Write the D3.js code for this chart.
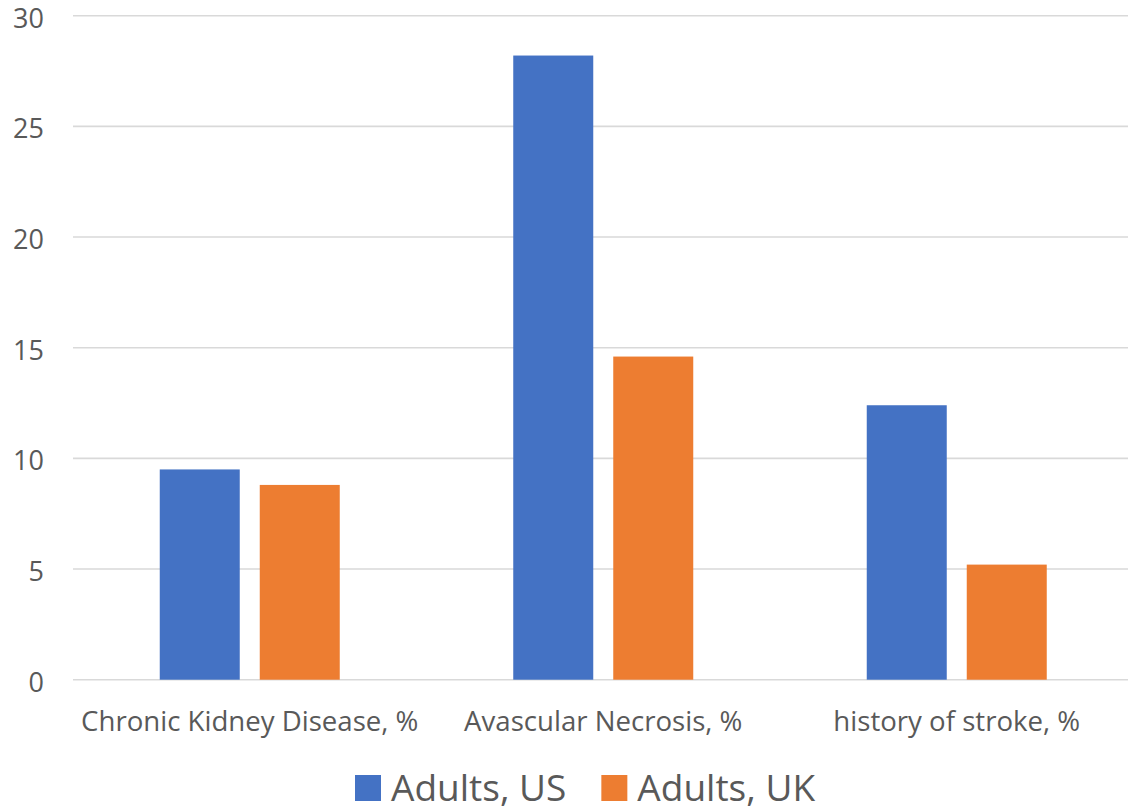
<!DOCTYPE html>
<html>
<head>
<meta charset="utf-8">
<script src="https://cdn.jsdelivr.net/npm/d3@7"></script>
<style>
  html, body { margin: 0; padding: 0; background: #ffffff; }
  svg { display: block; }
  text { font-family: "Open Sans", "Noto Sans", sans-serif; fill: #595959; }
</style>
</head>
<body>
<svg id="chart" width="1128" height="808"></svg>
<script>
const categories = ["Chronic Kidney Disease, %", "Avascular Necrosis, %", "history of stroke, %"];
const seriesNames = ["Adults, US", "Adults, UK"];
const usValues = [9.5, 28.2, 12.4];
const ukValues = [8.8, 14.6, 5.2];
const yTicks = [0, 5, 10, 15, 20, 25, 30];
const colors = ["#4472C4", "#ED7D31"];

const seriesValues = [usValues, ukValues];
const data = categories.map((c, i) => ({
  category: c,
  values: seriesNames.map((s, j) => ({ series: s, value: seriesValues[j][i], color: colors[j] }))
}));

const svg = d3.select("#chart");
const plotLeft = 73, plotRight = 1133.5, plotTop = 15.7, plotBottom = 679.7;

const x0 = d3.scaleBand().domain(categories).range([plotLeft, plotRight]).paddingInner(0).paddingOuter(0);
const x1 = d3.scaleBand().domain(seriesNames).range([0, x0.bandwidth()]).paddingInner(0.2).paddingOuter(0.8675);
const y = d3.scaleLinear().domain([0, 30]).range([plotBottom, plotTop]);

// gridlines
svg.append("g").selectAll("line").data(yTicks).join("line")
  .attr("x1", plotLeft).attr("x2", 1128)
  .attr("y1", d => y(d)).attr("y2", d => y(d))
  .attr("stroke", "#d9d9d9").attr("stroke-width", 1.6);

// y tick labels
svg.append("g").selectAll("text").data(yTicks).join("text")
  .attr("x", 44).attr("y", d => y(d)).attr("dy", "0.44em")
  .attr("text-anchor", "end").attr("font-size", 27)
  .text(d => d);

// bars
const groups = svg.append("g").selectAll("g").data(data).join("g")
  .attr("transform", d => `translate(${x0(d.category)},0)`);
groups.selectAll("rect").data(d => d.values).join("rect")
  .attr("x", d => x1(d.series))
  .attr("width", x1.bandwidth())
  .attr("y", d => y(d.value))
  .attr("height", d => y(0) - y(d.value))
  .attr("fill", d => d.color);

// category labels
svg.append("g").selectAll("text").data(categories).join("text")
  .attr("x", d => x0(d) + x0.bandwidth() / 2)
  .attr("y", 730.5)
  .attr("text-anchor", "middle").attr("font-size", 27.6)
  .text(d => d);

// legend
const legend = svg.append("g");
let lx = 355;
seriesNames.forEach((s, i) => {
  legend.append("rect").attr("x", lx).attr("y", 775).attr("width", 26).attr("height", 26).attr("fill", colors[i]);
  const t = legend.append("text").attr("x", lx + 36).attr("y", 801).attr("font-size", 37).text(s);
  lx = lx + 36 + t.node().getComputedTextLength() + 35;
});
</script>
</body>
</html>
